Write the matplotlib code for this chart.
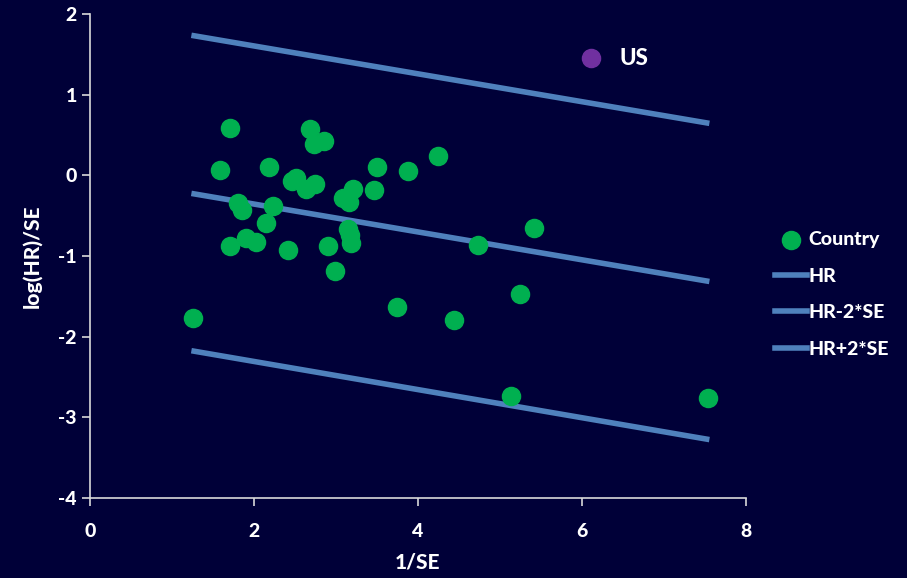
import numpy as np
import matplotlib.pyplot as plt

plt.rcParams['font.family'] = ['Lato', 'DejaVu Sans']
plt.rcParams['axes.unicode_minus'] = False

# country points: precision (1/SE) against standardised log hazard ratio
inv_se = [1.71, 1.58, 2.18, 2.68, 2.73, 2.85, 2.46, 2.51, 2.64, 2.75,
          3.50, 3.88, 4.25, 3.46, 3.21, 3.08, 3.16, 1.80, 1.85, 2.23,
          2.15, 1.71, 1.90, 2.03, 2.41, 2.90, 3.15, 3.17, 3.18, 2.99,
          4.73, 5.42, 1.26, 3.74, 4.44, 5.25, 5.13, 7.54]
log_hr_se = [0.59, 0.06, 0.10, 0.58, 0.39, 0.43, -0.07, -0.03, -0.17, -0.11,
             0.10, 0.05, 0.24, -0.18, -0.17, -0.28, -0.33, -0.34, -0.43, -0.38,
             -0.59, -0.88, -0.78, -0.83, -0.93, -0.88, -0.67, -0.74, -0.84, -1.19,
             -0.86, -0.65, -1.77, -1.63, -1.79, -1.47, -2.73, -2.76]

# the US on its own
us_x = [6.11]
us_y = [1.45]

# fitted line and the +/- 2 SE band
line_x = [1.27, 7.52]
hr = [-0.23, -1.31]
hr_minus = [-2.18, -3.27]
hr_plus = [1.73, 0.65]

bg = '#000038'
line_col = '#4f81bd'
wt = 'black'

fig = plt.figure(figsize=(9.07, 5.78), dpi=100, facecolor=bg)
ax = fig.add_axes([0.0992, 0.1384, 0.7233, 0.8374])
ax.set_facecolor(bg)

ax.scatter(inv_se, log_hr_se, s=170, color='#00b050', zorder=3, label='Country')
ax.plot(line_x, hr, color=line_col, lw=4, label='HR')
ax.plot(line_x, hr_minus, color=line_col, lw=4, label='HR-2*SE')
ax.plot(line_x, hr_plus, color=line_col, lw=4, label='HR+2*SE')
ax.scatter(us_x, us_y, s=170, color='#7030a0', zorder=3)
ax.text(us_x[0] + 0.35, us_y[0], 'US', color='white', fontsize=16,
        fontweight=wt, va='center', ha='left')

ax.set_xlim(0, 8)
ax.set_ylim(-4, 2)
ax.set_xticks([0, 2, 4, 6, 8])
ax.set_yticks([-4, -3, -2, -1, 0, 1, 2])

for s in ['top', 'right']:
    ax.spines[s].set_visible(False)
for s in ['left', 'bottom']:
    ax.spines[s].set_color('#d9d9d9')
    ax.spines[s].set_linewidth(1.2)
ax.tick_params(colors='#d9d9d9', length=6, width=1.2)
ax.tick_params(axis='x', pad=12)
for lab in ax.get_xticklabels() + ax.get_yticklabels():
    lab.set_color('white')
    lab.set_fontweight(wt)
    lab.set_fontsize(14)

ax.set_xlabel('1/SE', color='white', fontsize=15, fontweight=wt, labelpad=9)
ax.set_ylabel('log(HR)/SE', color='white', fontsize=15, fontweight=wt, labelpad=12)

leg = fig.legend(loc='upper left', bbox_to_anchor=(0.835, 0.63),
                 frameon=False, handlelength=1.65, handletextpad=0.1,
                 labelspacing=1.0, prop={'weight': wt, 'size': 14})
for t in leg.get_texts():
    t.set_color('white')

plt.savefig('out.png', dpi=100, facecolor=bg)
